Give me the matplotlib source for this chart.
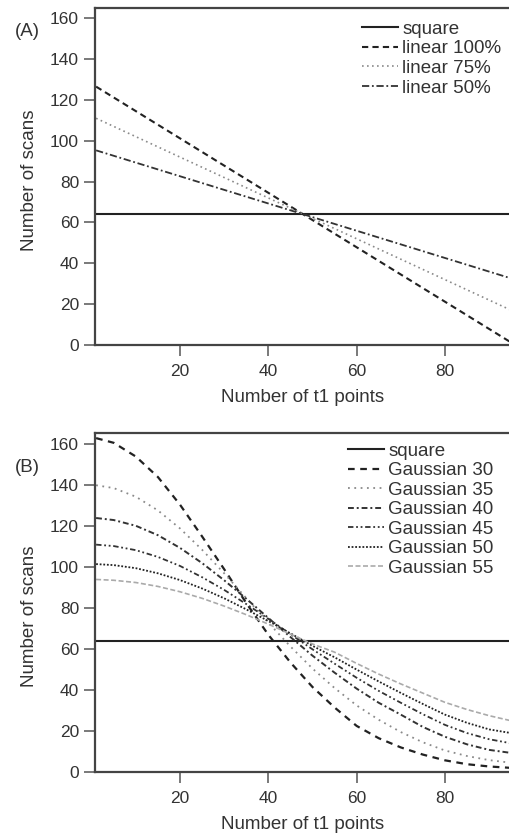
import matplotlib
matplotlib.use('Agg')
import matplotlib.pyplot as plt

plt.rcParams['font.family'] = ['Liberation Sans', 'DejaVu Sans']

# panel A: straight lines, values read at both ends
t1_lin = [1, 95]
square_a = [64, 64]
lin100 = [126.5, 1.2]
lin75 = [111, 17]
lin50 = [95.3, 32.6]

# panel B: Gaussian weighted curves
t1_g = [1, 5, 10, 15, 20, 25, 30, 35, 40, 45, 50, 55, 60, 65, 70, 75, 80, 85, 90, 95]
square_b = [64] * len(t1_g)
g30 = [163, 160.7, 154, 144, 130.5, 115, 99, 82.5, 67, 53.5, 41.5, 31.5, 22.5, 16.5, 12, 8.5, 5.7, 3.8, 2.7, 2.0]
g35 = [140, 138.6, 134.4, 127.7, 118.9, 108.5, 97, 84.9, 72.9, 61.3, 50.5, 41, 32.5, 25.5, 19.5, 14.5, 10.5, 7.8, 5.8, 4.5]
g40 = [124, 123, 120.2, 115.6, 109.4, 102, 93.6, 84.6, 75.2, 65.9, 56.8, 48.5, 40.7, 33.8, 28, 22, 17.2, 13.5, 10.8, 9.3]
g45 = [111, 110.3, 108.3, 105, 100.6, 95.1, 88.9, 82, 74.8, 67.3, 59.9, 52.9, 46, 39.6, 33.8, 28.2, 23, 19, 16, 14]
g50 = [101.5, 101, 99.5, 97, 93.7, 89.6, 84.8, 79.4, 73.7, 67.7, 61.6, 56, 50, 44.2, 38.6, 33.2, 28, 24, 20.8, 19]
g55 = [94, 93.6, 92.5, 90.6, 88, 84.8, 81, 76.8, 72.2, 67.3, 62.5, 58.5, 53, 47.8, 43, 38.5, 34, 30.5, 27.5, 25]

fig = plt.figure(figsize=(5.09, 8.36), dpi=100)
ax1 = fig.add_axes([95 / 509, 1 - 345 / 836, 414 / 509, 337 / 836])
ax2 = fig.add_axes([95 / 509, 1 - 772 / 836, 414 / 509, 339 / 836])

ax1.plot(t1_lin, square_a, color='#222222', lw=1.5, label='square')
ax1.plot(t1_lin, lin100, color='#222222', lw=1.5, dashes=(3, 2), label='linear 100%')
ax1.plot(t1_lin, lin75, color='#8a8a8a', lw=1.2, dashes=(1, 2), label='linear 75%')
ax1.plot(t1_lin, lin50, color='#333333', lw=1.3, dashes=(4, 1.5, 1, 1.5), label='linear 50%')

ax2.plot(t1_g, square_b, color='#222222', lw=1.5, label='square')
ax2.plot(t1_g, g30, color='#222222', lw=1.6, dashes=(3, 2.5), label='Gaussian 30')
ax2.plot(t1_g, g35, color='#8a8a8a', lw=1.3, dashes=(1, 2.5), label='Gaussian 35')
ax2.plot(t1_g, g40, color='#333333', lw=1.4, dashes=(3, 1.5, 1, 1.5), label='Gaussian 40')
ax2.plot(t1_g, g45, color='#333333', lw=1.3, dashes=(3, 1.5, 1, 1.5, 1, 1.5), label='Gaussian 45')
ax2.plot(t1_g, g50, color='#222222', lw=1.3, dashes=(1, 1), label='Gaussian 50')
ax2.plot(t1_g, g55, color='#aaaaaa', lw=1.2, dashes=(3, 1.5), label='Gaussian 55')

for ax, top in [(ax1, 165), (ax2, 165.5)]:
    ax.set_xlim(0.75, 94.5)
    ax.set_ylim(0, top)
    ax.set_xticks([20, 40, 60, 80])
    ax.set_yticks(range(0, 161, 20))
    ax.spines['right'].set_visible(False)
    for s in ['left', 'bottom', 'top']:
        ax.spines[s].set_linewidth(1.6)
        ax.spines[s].set_color('#444444')
    ax.tick_params(direction='out', length=8, width=1.1, color='#555555',
                   labelsize=12.5, labelcolor='#333333')
    ax.tick_params(axis='x', pad=6)
    ax.tick_params(axis='y', pad=3.5)
    ax.set_xlabel('Number of t1 points', fontsize=13.5, color='#333333')
    ax.set_ylabel('Number of scans', fontsize=13.5, color='#333333')
    ax.xaxis.set_label_coords(0.502, -0.13)

ax1.yaxis.set_label_coords(-0.137, 0.49)
ax2.yaxis.set_label_coords(-0.137, 0.46)

leg_kw = dict(frameon=False, fontsize=13.5, handlelength=1.9, handletextpad=0.25,
              labelspacing=0.13, borderpad=0, borderaxespad=0, loc='upper left')
leg1 = ax1.legend(bbox_to_anchor=(0.645, 0.962), **leg_kw)
leg2 = ax2.legend(bbox_to_anchor=(0.611, 0.972), **leg_kw)
for leg in [leg1, leg2]:
    for t in leg.get_texts():
        t.set_color('#333333')

fig.text(27 / 509, 1 - 32 / 836, '(A)', fontsize=13.5, color='#333333', ha='center', va='center')
fig.text(27 / 509, 1 - 467 / 836, '(B)', fontsize=13.5, color='#333333', ha='center', va='center')

fig.savefig('out.png', dpi=100)
